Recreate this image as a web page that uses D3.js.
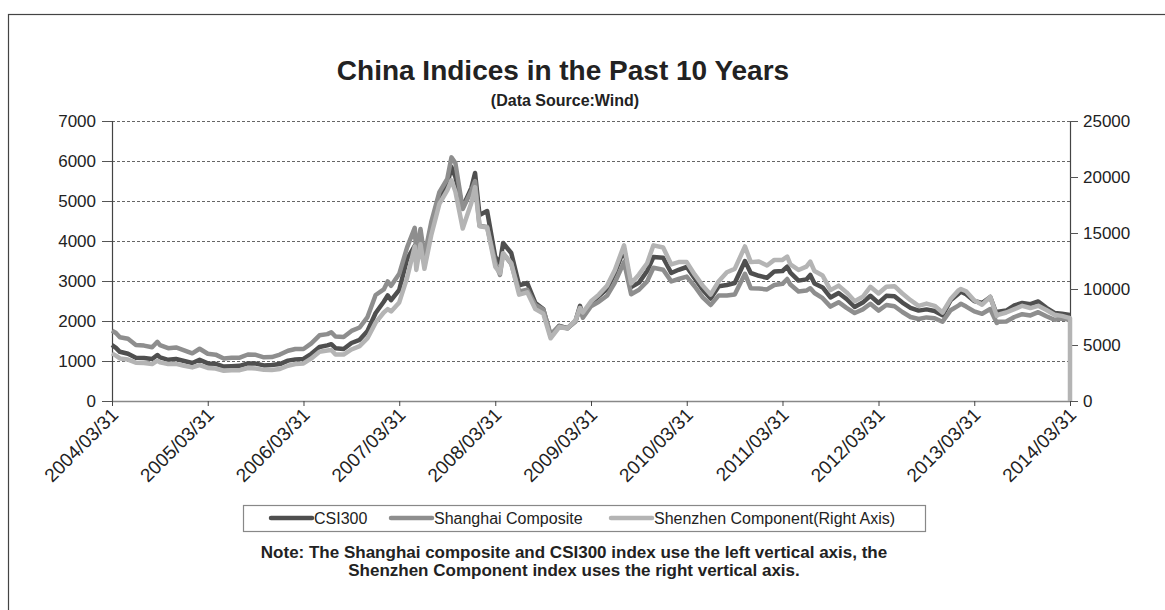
<!DOCTYPE html>
<html><head><meta charset="utf-8">
<script src="https://cdn.jsdelivr.net/npm/d3@7/dist/d3.min.js"></script>
<style>
body{margin:0;background:#fff;}
svg{display:block;font-family:"Liberation Sans",Arial,Helvetica,sans-serif;}
</style>
</head><body>
<svg id="chart" width="1165" height="610"></svg>
<script>
// ---------------- data ----------------
const dates = [
"2004-03-31","2004-04-15","2004-04-30","2004-05-31","2004-06-30","2004-07-31","2004-08-31","2004-09-20","2004-09-30","2004-10-31","2004-11-30","2004-12-31",
"2005-01-31","2005-02-28","2005-03-31","2005-04-30","2005-05-31","2005-06-30","2005-07-31","2005-08-31","2005-09-30","2005-10-31","2005-11-30","2005-12-31",
"2006-01-31","2006-02-28","2006-03-31","2006-04-30","2006-05-31","2006-06-30","2006-07-15","2006-07-31","2006-08-31","2006-09-30","2006-10-31","2006-11-30","2006-12-31",
"2007-01-31","2007-02-15","2007-02-28","2007-03-31","2007-04-30","2007-05-29","2007-06-04","2007-06-20","2007-07-05","2007-07-31","2007-08-31","2007-09-30","2007-10-16","2007-10-31","2007-11-28","2007-12-31",
"2008-01-14","2008-01-31","2008-02-29","2008-03-31","2008-04-18","2008-04-30","2008-05-31","2008-06-30","2008-07-31","2008-08-31","2008-09-30","2008-10-28","2008-11-30","2008-12-31",
"2009-01-31","2009-02-17","2009-02-28","2009-03-31","2009-04-30","2009-05-31","2009-06-30","2009-08-04","2009-08-31","2009-09-30","2009-10-31","2009-11-24","2009-12-31",
"2010-01-31","2010-02-28","2010-03-31","2010-04-30","2010-05-31","2010-06-30","2010-07-31","2010-08-31","2010-09-30","2010-11-08","2010-11-30","2010-12-31",
"2011-01-31","2011-02-28","2011-03-31","2011-04-18","2011-04-30","2011-05-31","2011-06-30","2011-07-15","2011-07-31","2011-08-31","2011-09-30","2011-10-31","2011-11-30","2011-12-31",
"2012-01-31","2012-02-29","2012-03-31","2012-04-30","2012-05-31","2012-06-30","2012-07-31","2012-08-31","2012-09-30","2012-10-31","2012-11-30","2012-12-31",
"2013-01-31","2013-02-08","2013-02-28","2013-03-31","2013-04-30","2013-05-31","2013-06-25","2013-06-30","2013-07-31","2013-08-31","2013-09-30","2013-10-31","2013-11-30","2013-12-31",
"2014-01-31","2014-02-28","2014-03-31","2014-03-31"
];
const csi300 = [
1400,1330,1230,1180,1080,1075,1050,1150,1090,1030,1050,1000,
950,1030,940,930,860,870,880,940,935,890,900,923,
1010,1040,1050,1180,1350,1390,1420,1320,1300,1450,1530,1750,2200,
2480,2640,2520,2780,3550,3880,3450,4000,3500,4300,5100,5400,5850,5600,4850,5330,
5700,4650,4750,3600,3450,3950,3700,2890,2950,2450,2300,1630,1880,1820,
2000,2380,2140,2440,2620,2800,3200,3800,2850,2960,3250,3600,3580,
3200,3280,3350,3070,2780,2560,2870,2900,2950,3500,3200,3130,
3080,3240,3250,3360,3210,3010,3040,3150,2940,2840,2590,2700,2550,2350,
2460,2630,2450,2630,2620,2460,2330,2260,2290,2250,2140,2520,
2690,2730,2670,2500,2450,2600,2160,2230,2260,2390,2450,2420,2490,2330,
2200,2180,2150,null
];
const shanghai = [
1760,1700,1595,1555,1400,1385,1342,1480,1396,1320,1340,1266,
1191,1306,1181,1159,1060,1080,1083,1162,1155,1092,1099,1161,
1258,1299,1299,1440,1642,1672,1720,1612,1600,1752,1837,2099,2650,
2790,2990,2880,3180,3840,4330,3700,4300,3620,4470,5220,5550,6090,5950,4800,5260,
5500,4380,4350,3470,3150,3690,3430,2740,2780,2400,2290,1665,1870,1820,
1990,2330,2080,2370,2480,2630,2960,3470,2670,2780,2990,3330,3280,
2990,3050,3110,2870,2590,2400,2640,2640,2660,3180,2820,2810,
2790,2900,2930,3050,2910,2740,2760,2820,2700,2570,2360,2470,2330,2200,
2290,2430,2260,2400,2370,2225,2100,2050,2090,2070,1980,2270,
2390,2430,2360,2240,2180,2300,1950,1980,1990,2100,2170,2140,2220,2120,
2030,2060,2030,null
];
const shenzhen = [
4250,4050,3800,3700,3420,3400,3300,3600,3450,3300,3320,3150,
3000,3200,2950,2900,2700,2750,2750,2950,2900,2780,2760,2860,
3150,3300,3350,3800,4400,4500,4550,4150,4150,4600,4900,5600,7000,
7900,8200,8000,8800,11000,13800,11700,14000,11800,14800,17600,18800,19700,18700,15400,17700,
19100,15600,15500,12000,11400,13200,12300,9500,9700,8200,7800,5600,6600,6480,
7200,8300,7900,8900,9500,10300,11700,13900,10500,11300,12300,13900,13700,
12200,12400,12400,11300,10300,9500,10700,11500,11800,13800,12400,12450,
12100,12600,12600,12900,12200,11700,12000,12450,11600,11200,9900,10300,9700,8900,
9300,10200,9600,10200,10250,9600,9000,8500,8700,8500,7900,9100,
9900,10000,9800,9000,8600,9300,7600,7700,7900,8200,8500,8300,8500,8120,
7700,7600,7400,0
];
const leftTicks = [0,1000,2000,3000,4000,5000,6000,7000];
const rightTicks = [0,5000,10000,15000,20000,25000];
const xTickLabels = ["2004/03/31","2005/03/31","2006/03/31","2007/03/31","2008/03/31","2009/03/31","2010/03/31","2011/03/31","2012/03/31","2013/03/31","2014/03/31"];
const seriesNames = ["CSI300","Shanghai Composite","Shenzhen Component(Right Axis)"];
const seriesColors = ["#4f4f4f","#8e8e8e","#b4b4b4"];
const titleText = "China Indices in the Past 10 Years";
const subtitleText = "(Data Source:Wind)";
const noteLines = ["Note: The Shanghai composite and CSI300 index use the left vertical axis, the",
                   "Shenzhen Component index uses the right vertical axis."];

// ---------------- layout ----------------
const svg = d3.select("#chart");
const L = 112, R = 1070, T = 121, B = 401;
const FONT = '"Liberation Sans",Arial,sans-serif';
const parseD = d3.timeParse("%Y-%m-%d");
const parseT = d3.timeParse("%Y/%m/%d");
const fmtT = d3.timeFormat("%Y/%m/%d");
const X = dates.map(parseD);

const x = d3.scaleTime().domain([parseT(xTickLabels[0]), parseT(xTickLabels[xTickLabels.length-1])]).range([L, R]);
const yL = d3.scaleLinear().domain([0, 7000]).range([B, T]);
const yR = d3.scaleLinear().domain([0, 25000]).range([B, T]);

// outer frame
svg.append("rect").attr("x", 8.5).attr("y", 14.5).attr("width", 1300).attr("height", 800)
  .attr("fill", "#fff").attr("stroke", "#444").attr("stroke-width", 1.2);

// title
svg.append("text").attr("x", 563).attr("y", 80).attr("text-anchor", "middle")
  .attr("font-size", 28).attr("font-weight", "bold").attr("fill", "#222").text(titleText);
svg.append("text").attr("x", 565).attr("y", 106).attr("text-anchor", "middle")
  .attr("font-size", 16).attr("font-weight", "bold").attr("fill", "#222").text(subtitleText);

// gridlines
svg.append("g").selectAll("line").data(leftTicks.filter(d => d > 0)).join("line")
  .attr("x1", L).attr("x2", R).attr("y1", d => Math.round(yL(d)) + 0.5).attr("y2", d => Math.round(yL(d)) + 0.5)
  .attr("stroke", "#555").attr("stroke-width", 0.9).attr("stroke-dasharray", "3,2");

// left axis
const gL = svg.append("g").attr("transform", `translate(${L},0)`)
  .call(d3.axisLeft(yL).tickValues(leftTicks).tickSize(10).tickPadding(6).tickFormat(d3.format("d")));
// right axis
const gR = svg.append("g").attr("transform", `translate(${R},0)`)
  .call(d3.axisRight(yR).tickValues(rightTicks).tickSize(8).tickPadding(5).tickFormat(d3.format("d")));
[gL, gR].forEach(g => {
  g.select(".domain").attr("stroke", "#444").attr("stroke-width", 1.2);
  g.selectAll(".tick line").attr("stroke", "#555");
  g.selectAll("text").attr("font-size", 17).attr("fill", "#222").attr("font-family", FONT);
});

// x axis
const gX = svg.append("g").attr("transform", `translate(0,${B})`)
  .call(d3.axisBottom(x).tickValues(xTickLabels.map(parseT)).tickSize(5).tickSizeOuter(0).tickFormat(fmtT));
gX.select(".domain").attr("stroke", "#888").attr("stroke-width", 1.5);
gX.selectAll(".tick line").attr("stroke", "#444");
gX.selectAll("text").attr("font-size", 19).attr("fill", "#222").attr("font-family", FONT)
  .attr("text-anchor", "end").attr("dy", null).attr("y", 0)
  .attr("transform", "translate(7,15) rotate(-45)");

// series lines
const rows = X.map((d, i) => ({d, c: csi300[i], s: shanghai[i], z: shenzhen[i]}));
const lineC = d3.line().defined(r => r.c != null).x(r => x(r.d)).y(r => yL(r.c));
const lineS = d3.line().defined(r => r.s != null).x(r => x(r.d)).y(r => yL(r.s));
const lineZ = d3.line().defined(r => r.z != null).x(r => x(r.d)).y(r => yR(r.z));
const gLines = svg.append("g").attr("fill", "none").attr("stroke-width", 4.5).attr("stroke-linejoin", "round");
gLines.append("path").attr("d", lineC(rows)).attr("stroke", seriesColors[0]);
gLines.append("path").attr("d", lineS(rows)).attr("stroke", seriesColors[1]);
gLines.append("path").attr("d", lineZ(rows)).attr("stroke", seriesColors[2]);

// legend
svg.append("rect").attr("x", 243.5).attr("y", 505.5).attr("width", 682).attr("height", 26)
  .attr("fill", "#fff").attr("stroke", "#888").attr("stroke-width", 1.2);
const legX = [271, 391, 611];
const leg = svg.append("g").selectAll("g").data(seriesNames).join("g")
  .attr("transform", (d, i) => `translate(${legX[i]},518)`);
leg.append("line").attr("x1", 0).attr("x2", 41).attr("y1", 0).attr("y2", 0)
  .attr("stroke", (d, i) => seriesColors[i]).attr("stroke-width", 4.5).attr("stroke-linecap", "round");
leg.append("text").attr("x", 43).attr("y", 6).attr("font-size", 16).attr("fill", "#222").text(d => d);

// note
svg.append("g").selectAll("text").data(noteLines).join("text")
  .attr("x", 574).attr("y", (d, i) => 558 + i * 18).attr("text-anchor", "middle")
  .attr("font-size", 17).attr("font-weight", "bold").attr("fill", "#222").text(d => d);
</script>
</body></html>
